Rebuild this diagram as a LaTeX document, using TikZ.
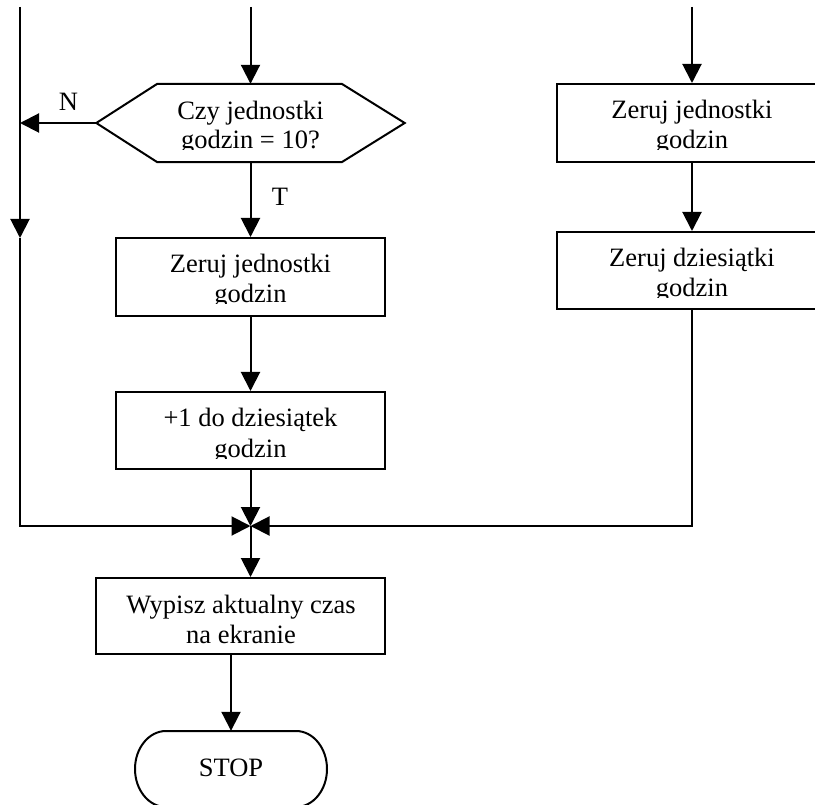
\documentclass[tikz,border=0pt]{standalone}
\usepackage{fontspec}
\setmainfont{Liberation Serif}
\usetikzlibrary{arrows.meta,calc}
\begin{document}
\begin{tikzpicture}[x=1pt,y=-1pt,
  ln/.style={line width=2pt},
  arr/.style={ln,-{Triangle[length=19pt,width=19pt]}},
  box/.style={draw,ln,inner sep=0pt,minimum width=269pt,minimum height=78pt},
  frame/.style={inner sep=0pt},
  txt/.style={inner sep=0pt,anchor=base,font=\fontsize{26.5}{30}\selectfont}]
\useasboundingbox (0,0) rectangle (815,805);

% decision
\node[frame,minimum width=308pt,minimum height=78pt] (dec) at (250.5,123) {};
\draw[ln] (dec.west) -- ([xshift=61pt]dec.north west) -- ([xshift=-63pt]dec.north east)
  -- (dec.east) -- ([xshift=-63pt]dec.south east) -- ([xshift=61pt]dec.south west) -- cycle;
\node[txt] (deca) at (250.5,120) {Czy jednostki};
\begin{scope}\clip (97,84) rectangle (405,150);
\node[txt] (decb) at (250.5,149) {godzin = 10?};
\end{scope}

% left column boxes
\node[box] (b1) at (250.5,277) {};
\node[txt] (b1a) at (250.5,273) {Zeruj jednostki};
\begin{scope}\clip (116,238) rectangle (385,304);
\node[txt] (b1b) at (250.5,303) {godzin};
\end{scope}

\node[box,minimum height=77pt] (b2) at (250.5,430.5) {};
\node[txt] (b2a) at (250.5,427) {+1 do dziesiątek};
\begin{scope}\clip (116,392) rectangle (385,458);
\node[txt] (b2b) at (250.5,457) {godzin};
\end{scope}

% right column boxes
\node[box,minimum width=270pt] (b3) at (692,123) {};
\node[txt] (b3a) at (692,119) {Zeruj jednostki};
\begin{scope}\clip (557,84) rectangle (827,150);
\node[txt] (b3b) at (692,149) {godzin};
\end{scope}

\node[box,minimum width=270pt,minimum height=77pt] (b4) at (692,270.5) {};
\node[txt] (b4a) at (692,267) {Zeruj dziesiątki};
\begin{scope}\clip (557,232) rectangle (827,298);
\node[txt] (b4b) at (692,297) {godzin};
\end{scope}

% output box
\node[box,minimum width=289pt,minimum height=76pt] (out) at (240.5,616) {};
\node[txt] (outa) at (241,613) {Wypisz aktualny czas};
\node[txt] (outb) at (241,643) {na ekranie};

% terminator
\node[frame,minimum width=192pt,minimum height=76pt] (stop) at (231,769) {};
\draw[ln] (166,731) -- (296,731)
  .. controls (313.1,731) and (327,748) .. (327,769)
  .. controls (327,790) and (313.1,807) .. (296,807)
  -- (166,807)
  .. controls (148.9,807) and (135,790) .. (135,769)
  .. controls (135,748) and (148.9,731) .. (166,731) -- cycle;
\node[txt] (stopt) at (231,776) {STOP};

% labels
\node[txt] (lN) at (68.5,111) {N};
\node[txt] (lT) at (280,206) {T};

% coordinates
\coordinate (tl) at (20,7);
\coordinate (lm) at (20,238);
\coordinate (tc) at (250.5,7);
\coordinate (tr) at (692,7);
\coordinate (j) at (250.5,526);

% connectors
\draw[arr] (tc) -- (dec.north);
\draw[arr] (dec.west) -- (dec.west -| tl);
\draw[arr] (tl) -- (lm);
\draw[arr] (lm) |- (j);
\draw[arr] (dec.south) -- (b1.north);
\draw[arr] (b1.south) -- (b2.north);
\draw[arr] (b2.south) -- (j);
\draw[arr] (tr) -- (b3.north);
\draw[arr] (b3.south) -- (b4.north);
\draw[arr] (b4.south) |- (j);
\draw[arr] (j) -- (j |- out.north);
\draw[arr] (stop.north |- out.south) -- (stop.north);
\end{tikzpicture}
\end{document}
